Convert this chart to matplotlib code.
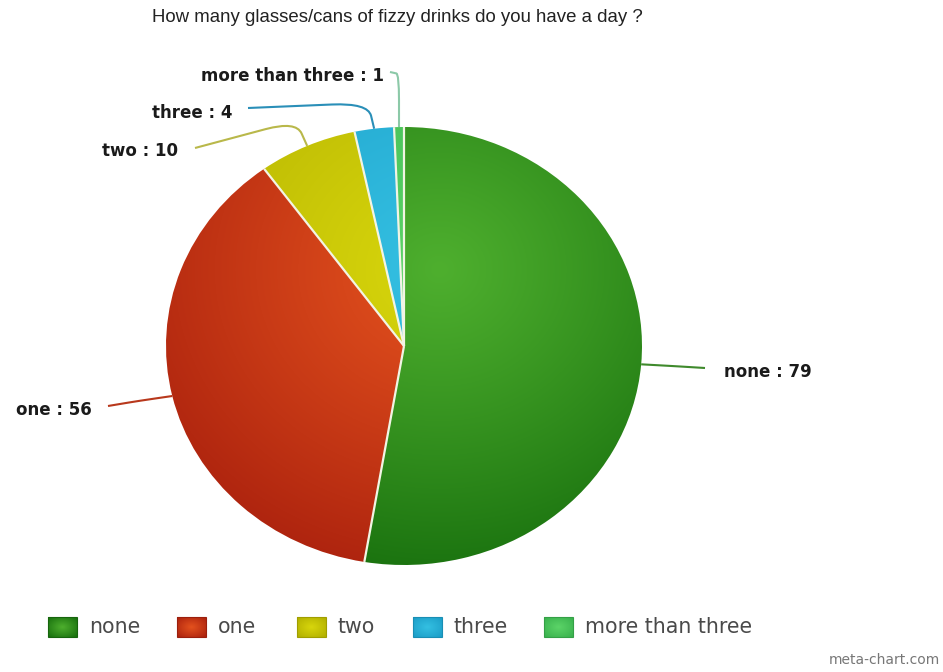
import numpy as np
import matplotlib
matplotlib.use("Agg")
import matplotlib.pyplot as plt
from matplotlib.path import Path
from matplotlib.patches import PathPatch, Rectangle

# Survey answers
categories = ["none", "one", "two", "three", "more than three"]
counts = [79, 56, 10, 4, 1]
title = "How many glasses/cans of fizzy drinks do you have a day ?"

# slice colours: (highlight, rim)
light = [(78, 175, 46), (228, 82, 30), (216, 214, 12), (52, 192, 226), (92, 212, 104)]
dark = [(24, 112, 14), (172, 34, 14), (178, 176, 0), (28, 158, 200), (58, 178, 78)]
leader_cols = ["#3f8a2c", "#b8381c", "#b9b84a", "#2a8fb8", "#8cc9a8"]

W, H = 943, 672
fig = plt.figure(figsize=(W / 100, H / 100), dpi=100)
fig.patch.set_facecolor("white")

# pie area (ellipse: wider than tall)
cx, cy, rx, ry = 404, 346, 238, 219
ax = fig.add_axes([(cx - rx) / W, 1 - (cy + ry) / H, 2 * rx / W, 2 * ry / H])
wedges, _ = ax.pie(counts, startangle=90, counterclock=False, radius=1,
                   colors=["none"] * len(counts),
                   wedgeprops=dict(edgecolor="#f2f4e4", linewidth=1.6, zorder=3))
for w in wedges:
    w.set_edgecolor("none")
ax.set_aspect("auto")
ax.set_xlim(-1, 1)
ax.set_ylim(-1, 1)
ax.axis("off")

# radial shading, lighter near a highlight point up and to the right of centre
n = 500
gx, gy = np.meshgrid(np.linspace(-1, 1, n), np.linspace(1, -1, n))
dist = np.hypot(gx - 0.15, gy - 0.35)
t = np.clip(dist / 1.45, 0, 1) ** 1.1
for w, lo, hi in zip(wedges, light, dark):
    lo = np.array(lo) / 255
    hi = np.array(hi) / 255
    img = lo[None, None, :] * (1 - t[..., None]) + hi[None, None, :] * t[..., None]
    im = ax.imshow(img, extent=(-1, 1, -1, 1), zorder=1, aspect="auto")
    im.set_clip_path(w)

# light separators between slices
total = sum(counts)
ang = 90.0
for val in counts:
    a = np.deg2rad(ang)
    ax.plot([0, np.cos(a)], [0, np.sin(a)], color="#f2f4e4", lw=1.6,
            solid_capstyle="butt", zorder=4)
    ang -= 360.0 * val / total

# overlay in pixel coordinates for labels, leaders and legend
ov = fig.add_axes([0, 0, 1, 1], zorder=5)
ov.set_xlim(0, W)
ov.set_ylim(H, 0)
ov.axis("off")
ov.patch.set_alpha(0)


def to_px(x, y):
    d = ax.transData.transform((x, y))
    return ov.transData.inverted().transform(d)


ov.text(152, 18, title, fontsize=13.4, family="Liberation Sans", color="#222222",
        ha="left", va="center")

# leader geometry: elbow point, end point, text anchor
elbows = [(672, 366), (138, 401), (296, 121), (368, 103), (399, 74)]
ends = [(705, 368), (108, 406), (195, 148), (248, 108), (390, 72)]
text_pos = [(724, 372, "left"), (92, 410, "right"), (178, 151, "right"),
            (233, 113, "right"), (384, 76, "right")]

start = 90.0
for i, (cat, val) in enumerate(zip(categories, counts)):
    span = 360.0 * val / total
    mid = np.deg2rad(start - span / 2)
    start -= span
    A = np.array(to_px(np.cos(mid), np.sin(mid)))
    E = np.array(elbows[i], float)
    L = np.array(ends[i], float)
    P1 = A + 0.5 * (E - A)
    P2 = E + 0.3 * (L - E)
    path = Path([A, P1, E, P2, L],
                [Path.MOVETO, Path.LINETO, Path.CURVE3, Path.CURVE3, Path.LINETO])
    ov.add_patch(PathPatch(path, fill=False, edgecolor=leader_cols[i], lw=1.5))
    tx, ty, ha = text_pos[i]
    ov.text(tx, ty, f"{cat} : {val}", fontsize=12, fontweight="bold",
            family="DejaVu Sans", color="#1a1a1a", ha=ha, va="center")

# legend with shaded swatches
leg_x = [48, 177, 297, 413, 544]
sx, sy = np.meshgrid(np.linspace(-1, 1, 30), np.linspace(-1, 1, 20))
st = np.clip(np.hypot(sx, sy) / 1.4, 0, 1)
for i, cat in enumerate(categories):
    x0 = leg_x[i]
    lo = np.array(light[i]) / 255
    hi = np.array(dark[i]) / 255
    sw = lo[None, None, :] * (1 - st[..., None]) + hi[None, None, :] * st[..., None]
    ov.imshow(sw, extent=(x0, x0 + 29, 637, 617), zorder=6, aspect="auto")
    ov.add_patch(Rectangle((x0, 617), 29, 20, facecolor="none",
                           edgecolor=hi * 0.9, lw=0.8, zorder=7))
    ov.text(x0 + 41, 627, cat, fontsize=14.8, family="DejaVu Sans",
            color="#4a4a4a", ha="left", va="center")
ov.set_xlim(0, W)
ov.set_ylim(H, 0)

ov.text(940, 660, "meta-chart.com", fontsize=10, family="DejaVu Sans",
        color="#777777", ha="right", va="center")

fig.savefig("out.png", dpi=100, facecolor="white")
